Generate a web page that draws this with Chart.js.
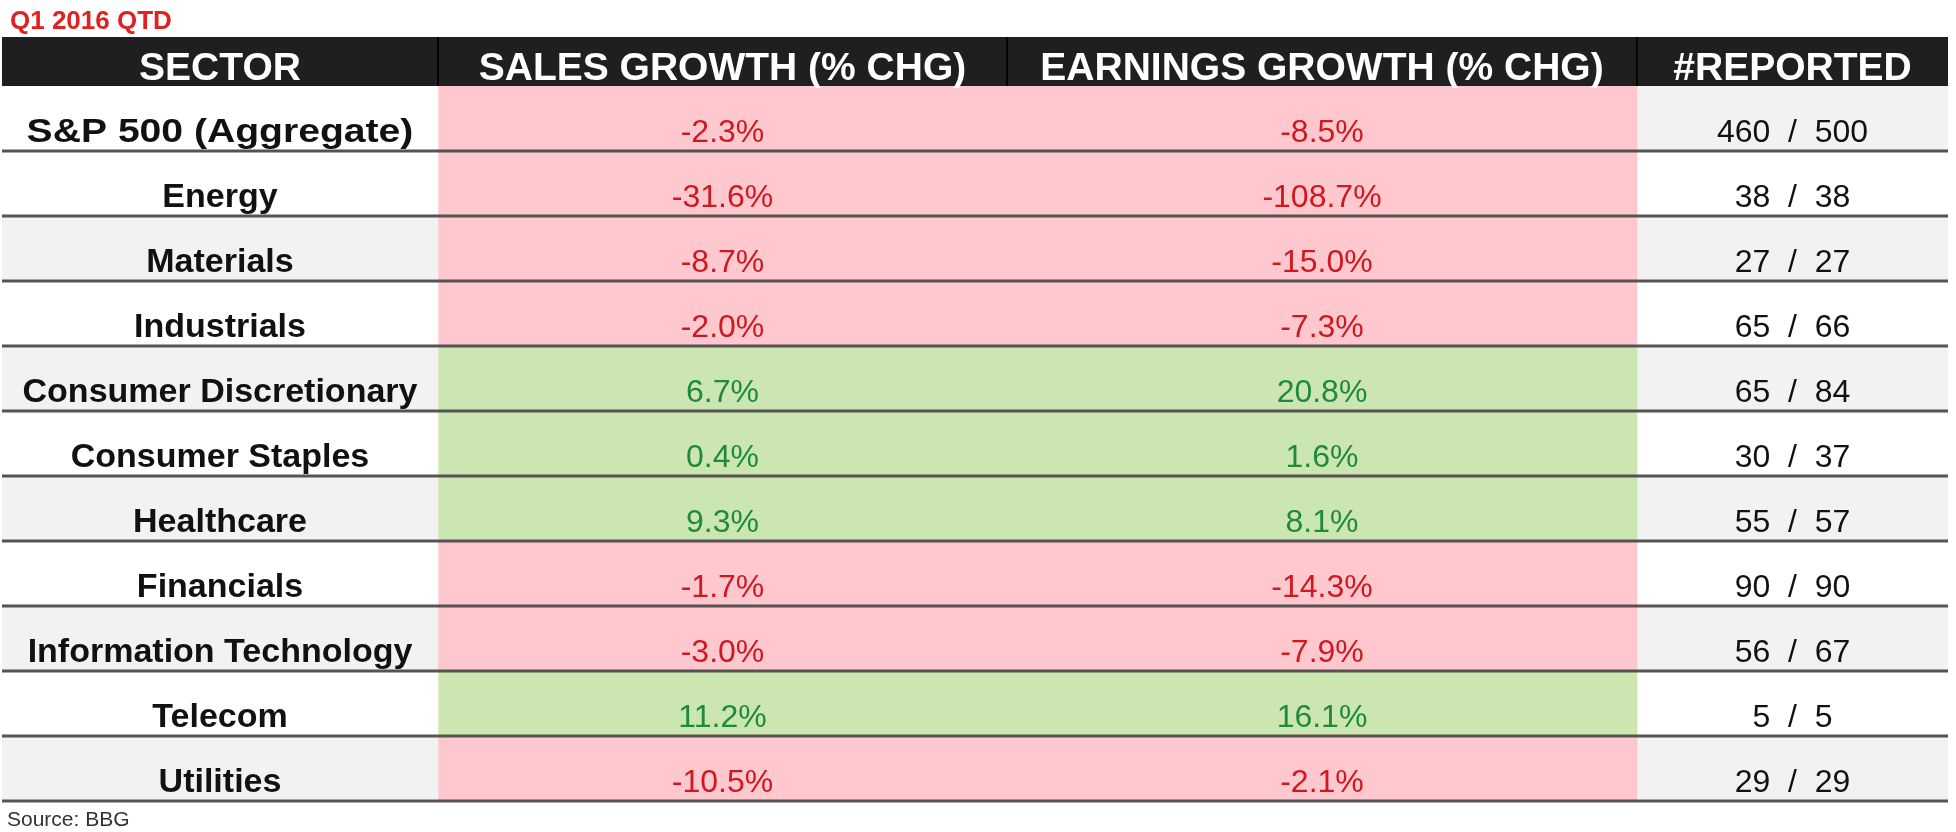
<!DOCTYPE html>
<html><head><meta charset="utf-8">
<script src="https://cdn.jsdelivr.net/npm/chart.js@4/dist/chart.umd.min.js"></script>
<style>html,body{margin:0;padding:0;background:#fff;overflow:hidden}#wrap{width:1956px;height:832px;position:relative}canvas{display:block}</style>
</head><body><div id="wrap"><canvas id="c" width="1956" height="832"></canvas></div>
<script>
// ---- data ----
const titleText = 'Q1 2016 QTD';
const sourceText = 'Source: BBG';
const columnHeaders = ['SECTOR', 'SALES GROWTH (% CHG)', 'EARNINGS GROWTH (% CHG)', '#REPORTED'];
const sectors = ['S&P 500 (Aggregate)', 'Energy', 'Materials', 'Industrials', 'Consumer Discretionary',
  'Consumer Staples', 'Healthcare', 'Financials', 'Information Technology', 'Telecom', 'Utilities'];
const salesGrowth = [-2.3, -31.6, -8.7, -2.0, 6.7, 0.4, 9.3, -1.7, -3.0, 11.2, -10.5];
const earningsGrowth = [-8.5, -108.7, -15.0, -7.3, 20.8, 1.6, 8.1, -14.3, -7.9, 16.1, -2.1];
const reportedCount = [460, 38, 27, 65, 65, 30, 55, 90, 56, 5, 29];
const totalCount = [500, 38, 27, 66, 84, 37, 57, 90, 67, 5, 29];

// ---- layout & style (not data) ----
const COL_EDGES = [0, 436, 1005, 1635, 1946];
const HEADER_H = 49;
const C = {
  headerBg: '#1f1f1f', headerDiv: '#050505', headerText: '#ffffff',
  neg: '#ffc7ce', pos: '#cce6b1', negText: '#cf1820', posText: '#1f8a3b',
  shade: '#f2f2f2', white: '#ffffff', rule: '#575353', label: '#111111', title: '#e2201f', source: '#333333'
};
const FONT = '"Liberation Sans", Arial, sans-serif';

function span(col) { return sectors.map(() => [COL_EDGES[col], COL_EDGES[col + 1]]); }
function signFill(arr) { return ctx => arr[ctx.dataIndex] < 0 ? C.neg : C.pos; }

const tablePlugin = {
  id: 'tablePlugin',
  afterDatasetsDraw(chart) {
    const ctx = chart.ctx, x = chart.scales.x, y = chart.scales.y, ca = chart.chartArea;
    const band = y.getPixelForValue(1) - y.getPixelForValue(0);
    const xl = x.getPixelForValue(COL_EDGES[0]), xr = x.getPixelForValue(COL_EDGES[COL_EDGES.length - 1]);
    const colCenter = c => x.getPixelForValue((COL_EDGES[c] + COL_EDGES[c + 1]) / 2);
    ctx.save();
    // header band
    const ht = ca.top - HEADER_H;
    ctx.fillStyle = C.headerBg;
    ctx.fillRect(xl, ht, xr - xl, HEADER_H);
    ctx.strokeStyle = C.headerDiv; ctx.lineWidth = 2;
    for (let c = 1; c < COL_EDGES.length - 1; c++) {
      const px = Math.round(x.getPixelForValue(COL_EDGES[c]));
      ctx.beginPath(); ctx.moveTo(px, ht); ctx.lineTo(px, ca.top); ctx.stroke();
    }
    ctx.fillStyle = C.headerText; ctx.textAlign = 'center'; ctx.textBaseline = 'alphabetic';
    ctx.font = 'bold 39px ' + FONT;
    columnHeaders.forEach((h, c) => ctx.fillText(h, colCenter(c), ca.top - 6));
    // row rules
    ctx.strokeStyle = C.rule; ctx.lineWidth = 3;
    sectors.forEach((s, i) => {
      const yb = y.getPixelForValue(i) + band / 2;
      ctx.beginPath(); ctx.moveTo(xl, yb); ctx.lineTo(xr, yb); ctx.stroke();
    });
    // cell text
    sectors.forEach((s, i) => {
      const base = y.getPixelForValue(i) + band / 2 - 9;
      ctx.font = 'bold 34px ' + FONT; ctx.fillStyle = C.label;
      const sx = i === 0 ? 1.15 : 1;
      ctx.save();
      ctx.translate(colCenter(0), base);
      ctx.scale(sx, 1);
      ctx.fillText(s, 0, 0);
      ctx.restore();
      ctx.font = '32px ' + FONT;
      ctx.fillStyle = salesGrowth[i] < 0 ? C.negText : C.posText;
      ctx.fillText(salesGrowth[i].toFixed(1) + '%', colCenter(1), base);
      ctx.fillStyle = earningsGrowth[i] < 0 ? C.negText : C.posText;
      ctx.fillText(earningsGrowth[i].toFixed(1) + '%', colCenter(2), base);
      ctx.fillStyle = C.label;
      ctx.fillText(reportedCount[i] + '  /  ' + totalCount[i], colCenter(3), base);
    });
    // title & source
    ctx.textAlign = 'left';
    ctx.font = 'bold 26px ' + FONT; ctx.fillStyle = C.title;
    ctx.fillText(titleText, 10, 29);
    ctx.font = '21px ' + FONT; ctx.fillStyle = C.source;
    ctx.fillText(sourceText, 7, 826);
    ctx.restore();
  }
};

const common = { grouped: false, categoryPercentage: 1, barPercentage: 1, borderWidth: 0, borderSkipped: false };
new Chart(document.getElementById('c'), {
  type: 'bar',
  data: {
    labels: sectors,
    datasets: [
      Object.assign({ label: columnHeaders[0], data: span(0),
        backgroundColor: ctx => (ctx.dataIndex % 2 === 0 && ctx.dataIndex > 0) ? C.shade : C.white }, common),
      Object.assign({ label: columnHeaders[1], data: span(1), backgroundColor: signFill(salesGrowth) }, common),
      Object.assign({ label: columnHeaders[2], data: span(2), backgroundColor: signFill(earningsGrowth) }, common),
      Object.assign({ label: columnHeaders[3], data: span(3),
        backgroundColor: ctx => ctx.dataIndex % 2 === 0 ? C.shade : C.white }, common)
    ]
  },
  options: {
    indexAxis: 'y', responsive: false, animation: false, devicePixelRatio: 1,
    layout: { padding: { top: 86, bottom: 31, left: 2, right: 8 } },
    scales: {
      x: { type: 'linear', min: COL_EDGES[0], max: COL_EDGES[COL_EDGES.length - 1], display: false },
      y: { type: 'category', display: false, offset: true }
    },
    plugins: { legend: { display: false }, tooltip: { enabled: false }, title: { display: false } }
  },
  plugins: [tablePlugin]
});
</script></body></html>
